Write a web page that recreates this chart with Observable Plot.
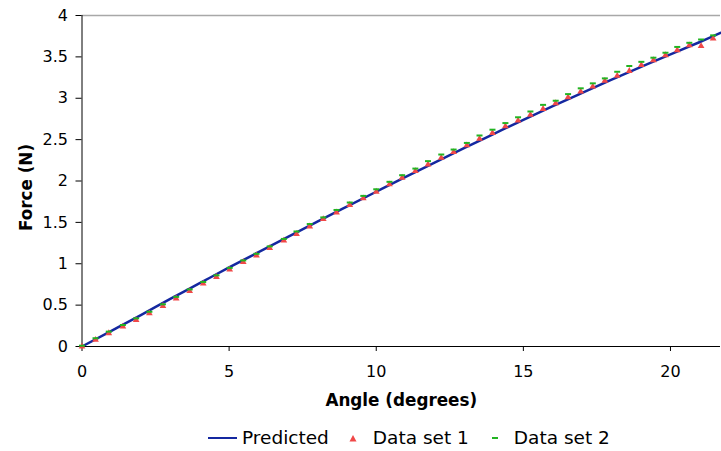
<!DOCTYPE html>
<html><head><meta charset="utf-8">
<script src="https://cdn.jsdelivr.net/npm/d3@7"></script>
<script src="https://cdn.jsdelivr.net/npm/@observablehq/plot@0.6"></script>
<style>
html,body{margin:0;padding:0;background:#fff;}
body{position:relative;width:721px;height:451px;overflow:hidden;font-family:"DejaVu Sans",Verdana,sans-serif;}
#legend{position:absolute;left:208px;top:426px;height:24px;line-height:24px;font-size:18.5px;color:#000;display:flex;align-items:center;white-space:nowrap;}
#legend .item{display:flex;align-items:center;}
</style></head><body>
<div id="chart"></div>
<div id="legend"></div>
<script>
const angles = [0,0.46,0.91,1.39,1.84,2.29,2.75,3.20,3.66,4.12,4.57,5.02,5.48,5.93,6.38,6.86,7.29,7.74,8.20,8.65,9.10,9.56,10.00,10.45,10.88,11.33,11.76,12.21,12.63,13.08,13.51,13.95,14.39,14.82,15.24,15.67,16.10,16.52,16.95,17.36,17.77,18.19,18.60,19.01,19.42,19.83,20.23,20.64,21.04,21.45];
const dataSet1 = [0,0.08,0.16,0.24,0.32,0.40,0.49,0.58,0.67,0.76,0.84,0.93,1.02,1.10,1.19,1.28,1.36,1.45,1.54,1.62,1.71,1.79,1.87,1.96,2.04,2.12,2.20,2.28,2.35,2.43,2.51,2.58,2.66,2.73,2.80,2.87,2.94,3.01,3.08,3.14,3.21,3.27,3.33,3.40,3.46,3.52,3.58,3.64,3.63,3.72];
const dataSet2 = [0.01,0.10,0.18,0.26,0.34,0.42,0.51,0.60,0.69,0.78,0.86,0.95,1.04,1.12,1.21,1.30,1.39,1.48,1.56,1.65,1.74,1.82,1.90,1.99,2.07,2.15,2.24,2.32,2.38,2.46,2.55,2.62,2.70,2.77,2.84,2.92,2.97,3.05,3.12,3.18,3.24,3.32,3.39,3.44,3.49,3.55,3.62,3.67,3.71,3.76];
const predAngles = [0,1,2,3,4,5,6,7,8,9,10,11,12,13,14,15,16,17,18,19,20,21,21.7];
const predForce = [0,0.19,0.38,0.575,0.765,0.955,1.14,1.325,1.51,1.69,1.87,2.05,2.225,2.40,2.57,2.74,2.905,3.065,3.225,3.38,3.53,3.68,3.79];
const xTicks = [0,5,10,15,20];
const yTicks = [0,0.5,1,1.5,2,2.5,3,3.5,4];
const yTickLabels = ["0","0.5","1","1.5","2","2.5","3","3.5","4"];
const seriesNames = ["Predicted","Data set 1","Data set 2"];

const colors = {pred:"#1428a0", ds1:"#f04848", ds2:"#22b422"};
const pred = predAngles.map((a,i)=>({a, f:predForce[i]}));
const d1 = angles.map((a,i)=>({a, f:dataSet1[i]}));
const d2 = angles.map((a,i)=>({a, f:dataSet2[i]}));
const dash = {draw(ctx){ ctx.rect(-3,-1,6,2); }};

const H = 422;
const chart = Plot.plot({
  width:721, height:H,
  marginLeft:81.5, marginRight:1, marginTop:15, marginBottom:H-346,
  style:{fontFamily:"'DejaVu Sans', Verdana, sans-serif", fontSize:"16px", color:"#000", background:"#fff"},
  x:{domain:[0,21.7]},
  y:{domain:[0,4]},
  marks:[
    Plot.ruleY([4],{stroke:"#a8a8a8", strokeWidth:1.5}),
    Plot.axisY({ticks:yTicks, tickFormat:(d,i)=>yTickLabels[i], tickSize:6, tickPadding:8, label:null, fontSize:16, stroke:"#000"}),
    Plot.axisX({ticks:xTicks, tickSize:5, tickPadding:14, label:null, fontSize:16, stroke:"#000"}),
    Plot.ruleX([0],{stroke:"#000"}),
    Plot.ruleY([0],{stroke:"#000"}),
    Plot.line(pred,{x:"a", y:"f", stroke:colors.pred, strokeWidth:2.5, curve:"natural"}),
    Plot.dot(d1,{x:"a", y:"f", symbol:"triangle", r:2.5, fill:colors.ds1, stroke:null}),
    Plot.dot(d2,{x:"a", y:"f", symbol:dash, fill:colors.ds2, stroke:null}),
    Plot.text(["Angle (degrees)"],{frameAnchor:"bottom", textAnchor:"middle", dy:54, lineAnchor:"middle", fontWeight:"bold", fontSize:16.8}),
    Plot.text(["Force (N)"],{frameAnchor:"left", textAnchor:"middle", dx:-55.5, dy:6.5, rotate:-90, lineAnchor:"middle", fontWeight:"bold", fontSize:16.8})
  ]
});
document.getElementById("chart").appendChild(chart);

const lg = document.getElementById("legend");
const swatches = [
  `<svg width="29" height="10" style="margin-right:5px"><line x1="0" y1="5" x2="29" y2="5" stroke="${colors.pred}" stroke-width="2"/></svg>`,
  `<svg width="8" height="10" style="margin-left:20px;margin-right:16px"><path d="M4,2L7.5,8.5L0.5,8.5Z" fill="${colors.ds1}"/></svg>`,
  `<svg width="6" height="10" style="margin-left:23px;margin-right:16px"><rect x="0" y="4" width="6" height="2" fill="${colors.ds2}"/></svg>`
];
seriesNames.forEach((n,i)=>{
  const el=document.createElement("div"); el.className="item";
  el.innerHTML = swatches[i] + `<span>${n}</span>`;
  lg.appendChild(el);
});
</script>
</body></html>
